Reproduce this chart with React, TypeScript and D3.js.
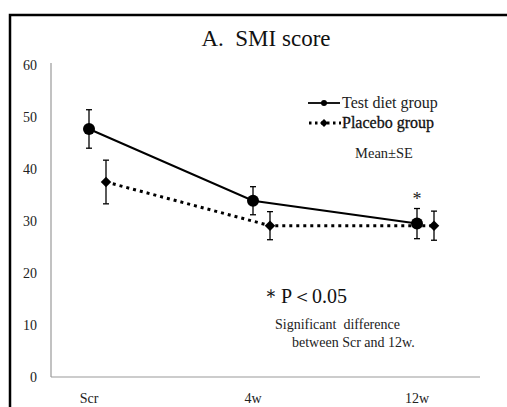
import React, { useRef, useEffect } from "react";
import * as d3 from "d3";

const timepoints = ["Scr", "4w", "12w"];
const testMean = [47.7, 33.9, 29.5];
const testSE = [3.7, 2.7, 2.9];
const placeboMean = [37.5, 29.1, 29.1];
const placeboSE = [4.2, 2.7, 2.8];
const yTicks = [0, 10, 20, 30, 40, 50, 60];
const sigFlags = [false, false, true];

const FONT = "Liberation Serif, Times New Roman, DejaVu Serif, serif";

function App() {
  const svgRef = useRef<SVGSVGElement>(null);

  useEffect(() => {
    document.body.style.margin = "0";
    document.body.style.overflow = "hidden";
    const svg = d3.select(svgRef.current);
    svg.selectAll("*").remove();

    const width = 507;
    const height = 407;

    // outer frame (left + top edges visible)
    svg.append("path")
      .attr("d", `M10,${height} L10,15 L${width},15`)
      .attr("fill", "none")
      .attr("stroke", "#000")
      .attr("stroke-width", 2.5);

    // scales
    const x = d3.scalePoint<string>()
      .domain(timepoints)
      .range([89, 417]);
    const offset = 17;

    const y = d3.scaleLinear()
      .domain([0, 60])
      .range([377, 65]);

    // axes
    svg.append("line")
      .attr("x1", 51).attr("x2", 51)
      .attr("y1", 63).attr("y2", y(0))
      .attr("stroke", "#999").attr("stroke-width", 1.2);
    svg.append("line")
      .attr("x1", 51).attr("x2", 480)
      .attr("y1", y(0)).attr("y2", y(0))
      .attr("stroke", "#999").attr("stroke-width", 1.2);

    svg.append("g")
      .selectAll("text")
      .data(yTicks)
      .join("text")
      .attr("x", 37)
      .attr("y", d => y(d) + 4.5)
      .attr("text-anchor", "end")
      .style("font-family", FONT)
      .attr("font-size", 14)
      .attr("fill", "#222")
      .text(d => d);

    svg.append("g")
      .selectAll("text")
      .data(timepoints)
      .join("text")
      .attr("x", d => x(d)!)
      .attr("y", 403)
      .attr("text-anchor", "middle")
      .style("font-family", FONT)
      .attr("font-size", 14)
      .attr("fill", "#222")
      .text(d => d);

    // title
    svg.append("text")
      .attr("x", 266).attr("y", 46)
      .attr("text-anchor", "middle")
      .style("font-family", FONT)
      .attr("font-size", 23)
      .attr("fill", "#111")
      .style("white-space", "pre")
      .text("A.  SMI score");

    const line = d3.line<number>()
      .x((d, i) => x(timepoints[i])!)
      .y(d => y(d));
    const linePlacebo = d3.line<number>()
      .x((d, i) => x(timepoints[i])! + offset)
      .y(d => y(d));

    // placebo line (dotted)
    svg.append("path")
      .datum(placeboMean)
      .attr("d", linePlacebo)
      .attr("fill", "none")
      .attr("stroke", "#000")
      .attr("stroke-width", 3)
      .attr("stroke-dasharray", "3 4");

    // test line (solid)
    svg.append("path")
      .datum(testMean)
      .attr("d", line)
      .attr("fill", "none")
      .attr("stroke", "#000")
      .attr("stroke-width", 2);

    const errorBars = (g, means, ses, dx) => {
      means.forEach((m, i) => {
        const cx = x(timepoints[i])! + dx;
        const top = y(m + ses[i]);
        const bot = y(m - ses[i]);
        g.append("line").attr("x1", cx).attr("x2", cx).attr("y1", top).attr("y2", bot)
          .attr("stroke", "#000").attr("stroke-width", 1.3);
        g.append("line").attr("x1", cx - 3).attr("x2", cx + 3).attr("y1", top).attr("y2", top)
          .attr("stroke", "#000").attr("stroke-width", 1.3);
        g.append("line").attr("x1", cx - 3).attr("x2", cx + 3).attr("y1", bot).attr("y2", bot)
          .attr("stroke", "#000").attr("stroke-width", 1.3);
      });
    };

    const gErr = svg.append("g");
    errorBars(gErr, testMean, testSE, 0);
    errorBars(gErr, placeboMean, placeboSE, offset);

    // markers
    svg.append("g")
      .selectAll("circle")
      .data(testMean)
      .join("circle")
      .attr("cx", (d, i) => x(timepoints[i])!)
      .attr("cy", d => y(d))
      .attr("r", 6)
      .attr("fill", "#000");

    const diamond = d3.symbol().type(d3.symbolDiamond2).size(70);
    svg.append("g")
      .selectAll("path")
      .data(placeboMean)
      .join("path")
      .attr("transform", (d, i) => `translate(${x(timepoints[i])! + offset},${y(d)})`)
      .attr("d", diamond)
      .attr("fill", "#000");

    // significance star
    svg.append("g")
      .selectAll("text")
      .data(testMean.map((m, i) => ({ m, i, se: testSE[i] })).filter(d => sigFlags[d.i]))
      .join("text")
      .attr("x", d => x(timepoints[d.i])!)
      .attr("y", d => y(d.m + d.se) - 4)
      .attr("text-anchor", "middle")
      .style("font-family", FONT)
      .attr("font-size", 18)
      .attr("fill", "#222")
      .text("*");

    // legend
    const lg = svg.append("g");
    lg.append("line").attr("x1", 308).attr("x2", 340).attr("y1", 103).attr("y2", 103)
      .attr("stroke", "#000").attr("stroke-width", 1.8);
    lg.append("circle").attr("cx", 324).attr("cy", 103).attr("r", 3).attr("fill", "#000");
    lg.append("text").attr("x", 342).attr("y", 108)
      .style("font-family", FONT).attr("font-size", 16).attr("fill", "#222")
      .text("Test diet group");

    lg.append("line").attr("x1", 309).attr("x2", 341).attr("y1", 123).attr("y2", 123)
      .attr("stroke", "#000").attr("stroke-width", 3).attr("stroke-dasharray", "2.5 3.5");
    lg.append("path").attr("transform", "translate(324,123)")
      .attr("d", d3.symbol().type(d3.symbolDiamond2).size(40)).attr("fill", "#000");
    lg.append("text").attr("x", 342).attr("y", 128)
      .style("font-family", FONT).attr("font-size", 16).attr("fill", "#111")
      .attr("stroke", "#111").attr("stroke-width", 0.3)
      .text("Placebo group");

    lg.append("text").attr("x", 384).attr("y", 158)
      .attr("text-anchor", "middle")
      .style("font-family", FONT).attr("font-size", 14.5).attr("fill", "#222")
      .text("Mean±SE");

    // p-value note
    svg.append("text").attr("x", 261).attr("y", 303)
      .style("font-family", FONT).attr("font-size", 20).attr("fill", "#111")
      .text("＊P＜0.05");
    svg.append("text").attr("x", 275).attr("y", 329)
      .style("font-family", FONT).attr("font-size", 14).attr("fill", "#222")
      .style("white-space", "pre")
      .text("Significant  difference");
    svg.append("text").attr("x", 292).attr("y", 347)
      .style("font-family", FONT).attr("font-size", 14).attr("fill", "#222")
      .text("between Scr and 12w.");
  }, []);

  return (
    <svg
      ref={svgRef}
      width={507}
      height={407}
      style={{ position: "absolute", left: 0, top: 0, background: "#fff" }}
    />
  );
}

export default App;
